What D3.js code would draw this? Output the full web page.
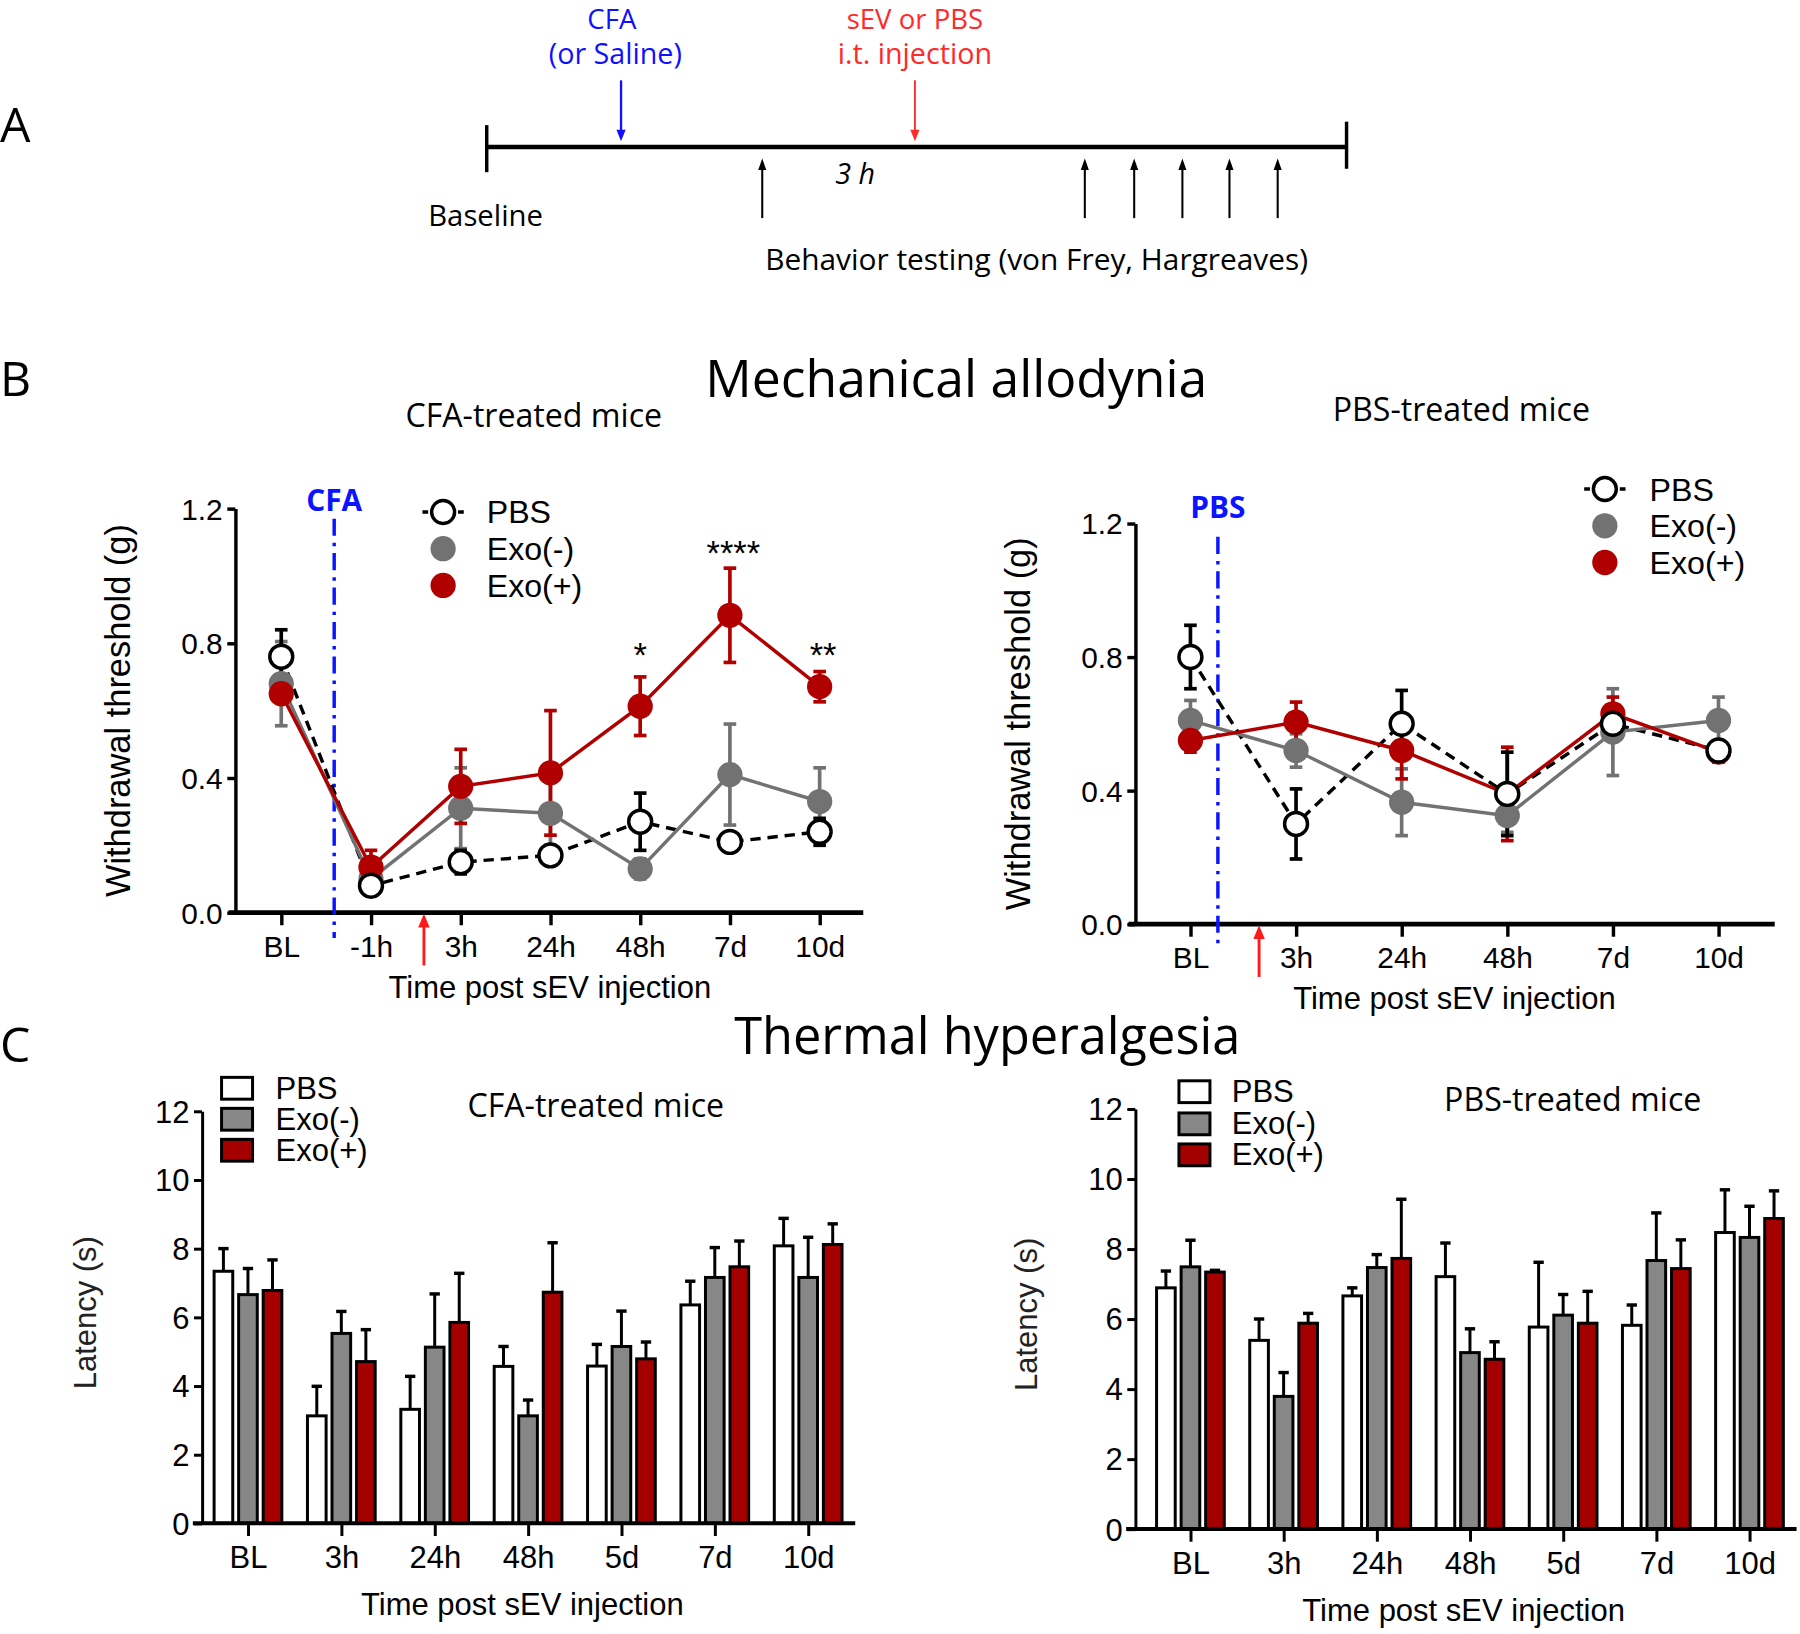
<!DOCTYPE html>
<html><head><meta charset="utf-8">
<script src="https://cdn.jsdelivr.net/npm/d3@7"></script>
<style>body{margin:0;background:#fff}svg{display:block}</style>
</head><body><svg id="c" width="1800" height="1634"></svg>
<script>
// ---------------- DATA ----------------
const seriesNames = ["PBS","Exo(-)","Exo(+)"];

// Mechanical allodynia, CFA-treated mice
const mechCatsCFA = ["BL","-1h","3h","24h","48h","7d","10d"];
const mechCFA_PBS      = [0.76,0.08,0.15,0.17,0.27,0.21,0.24];
const mechCFA_PBS_err  = [0.08,0.02,0.035,0.02,0.085,0.02,0.04];
const mechCFA_ExoN     = [0.68,0.10,0.31,0.295,0.13,0.41,0.33];
const mechCFA_ExoN_err = [0.125,0.02,0.12,0.095,0.03,0.15,0.10];
const mechCFA_ExoP     = [0.65,0.135,0.375,0.415,0.613,0.883,0.671];
const mechCFA_ExoP_err = [0.02,0.05,0.11,0.185,0.087,0.14,0.045];
const mechCFA_stars    = ["","","","","*","****","**"];

// Mechanical allodynia, PBS-treated mice
const mechCatsPBS = ["BL","3h","24h","48h","7d","10d"];
const mechPBS_PBS      = [0.80,0.30,0.60,0.39,0.60,0.52];
const mechPBS_PBS_err  = [0.095,0.105,0.10,0.125,0.04,0.02];
const mechPBS_ExoN     = [0.61,0.52,0.365,0.325,0.575,0.61];
const mechPBS_ExoN_err = [0.06,0.05,0.10,0.05,0.13,0.07];
const mechPBS_ExoP     = [0.55,0.605,0.52,0.39,0.63,0.515];
const mechPBS_ExoP_err = [0.035,0.06,0.085,0.14,0.05,0.03];

// Thermal hyperalgesia
const thermCats = ["BL","3h","24h","48h","5d","7d","10d"];
const thermCFA_PBS      = [7.34,3.13,3.32,4.57,4.58,6.36,8.08];
const thermCFA_PBS_err  = [0.66,0.86,0.96,0.58,0.63,0.69,0.80];
const thermCFA_ExoN     = [6.66,5.53,5.13,3.13,5.15,7.16,7.16];
const thermCFA_ExoN_err = [0.76,0.64,1.55,0.46,1.03,0.87,1.17];
const thermCFA_ExoP     = [6.78,4.71,5.85,6.73,4.79,7.47,8.12];
const thermCFA_ExoP_err = [0.89,0.93,1.43,1.44,0.49,0.75,0.60];

const thermPBS_PBS      = [6.89,5.39,6.66,7.21,5.77,5.82,8.47];
const thermPBS_PBS_err  = [0.48,0.61,0.23,0.96,1.85,0.58,1.22];
const thermPBS_ExoN     = [7.49,3.79,7.47,5.04,6.11,7.67,8.33];
const thermPBS_ExoN_err = [0.76,0.68,0.37,0.68,0.59,1.36,0.89];
const thermPBS_ExoP     = [7.34,5.88,7.73,4.85,5.88,7.44,8.87];
const thermPBS_ExoP_err = [0.05,0.28,1.69,0.50,0.91,0.82,0.79];

const mechTicks = [0,0.4,0.8,1.2];
const thermTicks = [0,2,4,6,8,10,12];

// ---------------- DRAWING ----------------
const svg = d3.select("#c");
svg.append("rect").attr("width",1800).attr("height",1634).attr("fill","#fff");
const S = 1800/1568;
const root = svg.append("g").attr("transform",`scale(${S})`);

const ARIAL = "'Liberation Sans', Arial, sans-serif";
const SEGOE = "'Open Sans', 'Noto Sans', sans-serif";
const C_GRAY = "#727272", C_RED = "#b00000", C_BLUE = "#0a14ff";
const C_BAR_GRAY = "#878787", C_BAR_RED = "#a50000";

function txt(g, x, y, s, o = {}) {
  const t = g.append("text").attr("x", x).attr("y", y).text(s)
    .attr("font-family", o.family || ARIAL)
    .attr("font-size", o.size || 26)
    .attr("fill", o.fill || "#000")
    .attr("text-anchor", o.anchor || "middle");
  if (o.weight) t.attr("font-weight", o.weight);
  if (o.style) t.attr("font-style", o.style);
  if (o.rotate) t.attr("transform", `rotate(${o.rotate},${x},${y})`);
  return t;
}

function arrow(g, x, yFrom, yTo, color, w = 2, head = 10, hw = 4) {
  const dir = yTo > yFrom ? 1 : -1;
  g.append("line").attr("x1", x).attr("x2", x).attr("y1", yFrom).attr("y2", yTo - dir * head * 0.6)
    .attr("stroke", color).attr("stroke-width", w);
  g.append("path").attr("d", `M${x},${yTo} L${x - hw},${yTo - dir * head} L${x + hw},${yTo - dir * head} Z`)
    .attr("fill", color);
}

// ---------- Panel A ----------
const gA = root.append("g");
txt(gA, 0, 124, "A", {family: SEGOE, size: 42, anchor: "start"});
gA.append("line").attr("x1", 424).attr("x2", 1173).attr("y1", 128).attr("y2", 128).attr("stroke", "#000").attr("stroke-width", 4);
gA.append("line").attr("x1", 424).attr("x2", 424).attr("y1", 109).attr("y2", 150).attr("stroke", "#000").attr("stroke-width", 3);
gA.append("line").attr("x1", 1173).attr("x2", 1173).attr("y1", 106).attr("y2", 147).attr("stroke", "#000").attr("stroke-width", 3);
txt(gA, 533, 25, "CFA", {family: SEGOE, size: 24, fill: "#1010ff"});
txt(gA, 536, 56, "(or Saline)", {family: SEGOE, size: 25, fill: "#1010ff"});
arrow(gA, 541, 70, 123, "#1010ff", 2, 10, 4);
txt(gA, 797, 25, "sEV or PBS", {family: SEGOE, size: 24, fill: "#ff2a2a"});
txt(gA, 797, 56, "i.t. injection", {family: SEGOE, size: 25, fill: "#ff2a2a"});
arrow(gA, 797, 70, 123, "#ff2a2a", 1.6, 10, 4);
txt(gA, 745, 160, "3 h", {family: SEGOE, size: 25, style: "italic"});
[664, 945, 988, 1030, 1071, 1113].forEach(x => arrow(gA, x, 190, 138, "#000", 1.8, 10, 3.5));
txt(gA, 423, 197, "Baseline", {family: SEGOE, size: 25.5});
txt(gA, 903, 235, "Behavior testing (von Frey, Hargreaves)", {family: SEGOE, size: 26});

// ---------- Panel titles ----------
txt(root, 0, 345, "B", {family: SEGOE, size: 42, anchor: "start"});
txt(root, 833, 346, "Mechanical allodynia", {family: SEGOE, size: 45});
txt(root, 465, 372, "CFA-treated mice", {family: SEGOE, size: 28});
txt(root, 1273, 367, "PBS-treated mice", {family: SEGOE, size: 28});
txt(root, 0, 925, "C", {family: SEGOE, size: 42, anchor: "start"});
txt(root, 860, 918, "Thermal hyperalgesia", {family: SEGOE, size: 44});

// ---------- Mechanical charts ----------
function mechChart(cfg) {
  const g = root.append("g");
  const y = d3.scaleLinear().domain([0, 1.2]).range([cfg.yBot, cfg.yTop]);
  const x = d3.scalePoint().domain(cfg.cats).range([cfg.xFirst, cfg.xLast]);
  const step = x.step();

  // y axis
  const ya = g.append("g").attr("transform", `translate(${cfg.x0},0)`)
    .call(d3.axisLeft(y).tickValues(mechTicks).tickFormat(d3.format(".1f")).tickSize(7).tickPadding(4).tickSizeOuter(0));
  ya.select(".domain").attr("stroke-width", 3);
  ya.selectAll(".tick line").attr("stroke-width", 3);
  ya.selectAll(".tick text").attr("font-family", ARIAL).attr("font-size", 26).attr("fill", "#000").attr("dy", "0.35em");

  // x axis
  g.append("line").attr("x1", cfg.x0 - 6).attr("x2", cfg.x1).attr("y1", cfg.yBot).attr("y2", cfg.yBot)
    .attr("stroke", "#000").attr("stroke-width", 4);
  const xa = g.append("g").attr("transform", `translate(0,${cfg.yBot})`)
    .call(d3.axisBottom(x).tickSize(11).tickPadding(9));
  xa.select(".domain").remove();
  xa.selectAll(".tick line").attr("stroke-width", 3);
  xa.selectAll(".tick text").attr("font-family", ARIAL).attr("font-size", 26).attr("fill", "#000");

  // vertical dash-dot marker
  const vx = x(cfg.cats[0]) + cfg.markFrac * step;
  g.append("line").attr("x1", vx).attr("x2", vx).attr("y1", y(cfg.markTop)).attr("y2", cfg.yBot + cfg.markBelow)
    .attr("stroke", C_BLUE).attr("stroke-width", 3).attr("stroke-dasharray", "15,6,3,6");
  txt(g, vx, cfg.markLabelY, cfg.markLabel, {family: SEGOE, size: 26, weight: "bold", fill: C_BLUE});

  // red arrow (sEV injection)
  const ax = x(cfg.cats[0]) + cfg.arrowFrac * step;
  arrow(g, ax, cfg.yBot + 46, cfg.yBot + 1, "#ff1a1a", 2.5, 12, 5);

  // axis titles
  txt(g, cfg.ytX, (cfg.yTop + cfg.yBot) / 2, "Withdrawal threshold (g)", {size: 30, rotate: -90});
  txt(g, cfg.xtX, cfg.yBot + 74, "Time post sEV injection", {size: 27});

  const series = [
    {vals: cfg.pbs, err: cfg.pbsErr, color: "#000", dash: "9,6", fill: "#fff"},
    {vals: cfg.exoN, err: cfg.exoNErr, color: C_GRAY, dash: null, fill: C_GRAY},
    {vals: cfg.exoP, err: cfg.exoPErr, color: C_RED, dash: null, fill: C_RED}
  ];
  const line = d3.line().x((d, i) => x(cfg.cats[i])).y(d => y(d));
  // lines
  [series[0], series[1], series[2]].forEach(s => {
    g.append("path").attr("d", line(s.vals)).attr("fill", "none").attr("stroke", s.color)
      .attr("stroke-width", 3).attr("stroke-dasharray", s.dash);
  });
  // error bars
  [series[1], series[2], series[0]].forEach(s => {
    s.vals.forEach((v, i) => {
      const cx = x(cfg.cats[i]);
      const e = s.err[i];
      g.append("line").attr("x1", cx).attr("x2", cx).attr("y1", y(v - e)).attr("y2", y(v + e))
        .attr("stroke", s.color).attr("stroke-width", 3.2);
      [v - e, v + e].forEach(w => g.append("line").attr("x1", cx - 5.5).attr("x2", cx + 5.5)
        .attr("y1", y(w)).attr("y2", y(w)).attr("stroke", s.color).attr("stroke-width", 3.2));
    });
  });
  // points
  [series[1], series[2]].forEach(s => {
    g.selectAll(null).data(s.vals).enter().append("circle")
      .attr("cx", (d, i) => x(cfg.cats[i])).attr("cy", d => y(d)).attr("r", 11).attr("fill", s.fill);
  });
  g.selectAll(null).data(series[0].vals).enter().append("circle")
    .attr("cx", (d, i) => x(cfg.cats[i])).attr("cy", d => y(d)).attr("r", 10)
    .attr("fill", "#fff").attr("stroke", "#000").attr("stroke-width", 3);

  // stars
  if (cfg.stars) {
    cfg.stars.forEach((s, i) => {
      if (s) txt(g, x(cfg.cats[i]) + (s.length > 1 ? 3 : 0), y(cfg.starY[i]) + 16, s, {size: 30});
    });
  }

  // legend
  const L = cfg.legend;
  L.rows.forEach((ry, k) => {
    if (k === 0) {
      g.append("line").attr("x1", L.x - 18).attr("x2", L.x + 18).attr("y1", ry).attr("y2", ry)
        .attr("stroke", "#000").attr("stroke-width", 3).attr("stroke-dasharray", "5,26");
      g.append("circle").attr("cx", L.x).attr("cy", ry).attr("r", 10).attr("fill", "#fff")
        .attr("stroke", "#000").attr("stroke-width", 3);
    } else {
      g.append("circle").attr("cx", L.x).attr("cy", ry).attr("r", 11).attr("fill", k === 1 ? C_GRAY : C_RED);
    }
    txt(g, L.tx, ry + 10, seriesNames[k], {size: 28, anchor: "start"});
  });
}

mechChart({
  cats: mechCatsCFA, x0: 205, x1: 752, xFirst: 245, xLast: 714, yTop: 443, yBot: 795,
  pbs: mechCFA_PBS, pbsErr: mechCFA_PBS_err, exoN: mechCFA_ExoN, exoNErr: mechCFA_ExoN_err,
  exoP: mechCFA_ExoP, exoPErr: mechCFA_ExoP_err,
  markFrac: 0.59, markLabel: "CFA", markLabelY: 445, markTop: 1.17, markBelow: 22, arrowFrac: 1.59,
  ytX: 113, xtX: 479,
  stars: mechCFA_stars, starY: [0, 0, 0, 0, 0.785, 1.087, 0.785],
  legend: {x: 386, tx: 424, rows: [446, 478, 510]}
});

mechChart({
  cats: mechCatsPBS, x0: 989, x1: 1546, xFirst: 1037, xLast: 1497, yTop: 456, yBot: 805,
  pbs: mechPBS_PBS, pbsErr: mechPBS_PBS_err, exoN: mechPBS_ExoN, exoNErr: mechPBS_ExoN_err,
  exoP: mechPBS_ExoP, exoPErr: mechPBS_ExoP_err,
  markFrac: 0.26, markLabel: "PBS", markLabelY: 451, markTop: 1.16, markBelow: 22, arrowFrac: 0.65,
  ytX: 897, xtX: 1267,
  stars: null,
  legend: {x: 1398, tx: 1437, rows: [426, 458, 490]}
});

// ---------- Thermal charts ----------
function thermChart(cfg) {
  const g = root.append("g");
  const y = d3.scaleLinear().domain([0, 12]).range([cfg.yBot, cfg.yTop]);
  const x = d3.scalePoint().domain(thermCats).range([cfg.xFirst, cfg.xLast]);
  const sub = d3.scaleBand().domain([0, 1, 2]).range([-29.5, 29.5]).paddingInner(0.24);

  const series = [
    {vals: cfg.pbs, err: cfg.pbsErr, fill: "#fff"},
    {vals: cfg.exoN, err: cfg.exoNErr, fill: C_BAR_GRAY},
    {vals: cfg.exoP, err: cfg.exoPErr, fill: C_BAR_RED}
  ];
  // error bars (upward)
  series.forEach((s, k) => {
    s.vals.forEach((v, i) => {
      const cx = x(thermCats[i]) + sub(k) + sub.bandwidth() / 2;
      g.append("line").attr("x1", cx).attr("x2", cx).attr("y1", y(v)).attr("y2", y(v + s.err[i]))
        .attr("stroke", "#000").attr("stroke-width", 2.6);
      g.append("line").attr("x1", cx - 4.5).attr("x2", cx + 4.5).attr("y1", y(v + s.err[i])).attr("y2", y(v + s.err[i]))
        .attr("stroke", "#000").attr("stroke-width", 3);
    });
  });
  // bars
  series.forEach((s, k) => {
    g.selectAll(null).data(s.vals).enter().append("rect")
      .attr("x", (d, i) => x(thermCats[i]) + sub(k))
      .attr("y", d => y(d)).attr("width", sub.bandwidth()).attr("height", d => cfg.yBot - y(d))
      .attr("fill", s.fill).attr("stroke", "#000").attr("stroke-width", 2.6);
  });

  // y axis
  const ya = g.append("g").attr("transform", `translate(${cfg.x0},0)`)
    .call(d3.axisLeft(y).tickValues(thermTicks).tickFormat(d3.format("d")).tickSize(7).tickPadding(4).tickSizeOuter(0));
  ya.select(".domain").attr("stroke-width", 2.6);
  ya.selectAll(".tick line").attr("stroke-width", 2.6);
  ya.selectAll(".tick text").attr("font-family", ARIAL).attr("font-size", 27).attr("fill", "#000").attr("dy", "0.35em");

  // x axis
  g.append("line").attr("x1", cfg.x0 - 8).attr("x2", cfg.x1).attr("y1", cfg.yBot).attr("y2", cfg.yBot)
    .attr("stroke", "#000").attr("stroke-width", 3.5);
  const xa = g.append("g").attr("transform", `translate(0,${cfg.yBot})`)
    .call(d3.axisBottom(x).tickSize(11).tickPadding(9));
  xa.select(".domain").remove();
  xa.selectAll(".tick line").attr("stroke-width", 2.6);
  xa.selectAll(".tick text").attr("font-family", ARIAL).attr("font-size", 27).attr("fill", "#000");

  txt(g, cfg.ytX, (cfg.yTop + cfg.yBot) / 2 - 4, "Latency (s)", {size: 27, rotate: -90, fill: "#222"});
  txt(g, cfg.xtX, cfg.yBot + 80, "Time post sEV injection", {size: 27});
  txt(g, cfg.titleX, cfg.titleY, cfg.title, {family: SEGOE, size: 28});

  // legend
  const L = cfg.legend;
  L.rows.forEach((ry, k) => {
    g.append("rect").attr("x", L.x).attr("y", ry - 9.5).attr("width", 27).attr("height", 19)
      .attr("fill", series[k].fill).attr("stroke", "#000").attr("stroke-width", 2.6);
    txt(g, L.tx, ry + 9, seriesNames[k], {size: 27, anchor: "start"});
  });
}

thermChart({
  x0: 176, x1: 745, xFirst: 216, xLast: 704, yTop: 968, yBot: 1327,
  pbs: thermCFA_PBS, pbsErr: thermCFA_PBS_err, exoN: thermCFA_ExoN, exoNErr: thermCFA_ExoN_err,
  exoP: thermCFA_ExoP, exoPErr: thermCFA_ExoP_err,
  ytX: 84, xtX: 455, title: "CFA-treated mice", titleX: 519, titleY: 973,
  legend: {x: 193, tx: 240, rows: [948, 975, 1002]}
});

thermChart({
  x0: 989, x1: 1565, xFirst: 1037, xLast: 1524, yTop: 966, yBot: 1332,
  pbs: thermPBS_PBS, pbsErr: thermPBS_PBS_err, exoN: thermPBS_ExoN, exoNErr: thermPBS_ExoN_err,
  exoP: thermPBS_ExoP, exoPErr: thermPBS_ExoP_err,
  ytX: 903, xtX: 1275, title: "PBS-treated mice", titleX: 1370, titleY: 968,
  legend: {x: 1027, tx: 1073, rows: [951, 979, 1006]}
});
</script>
</body></html>
